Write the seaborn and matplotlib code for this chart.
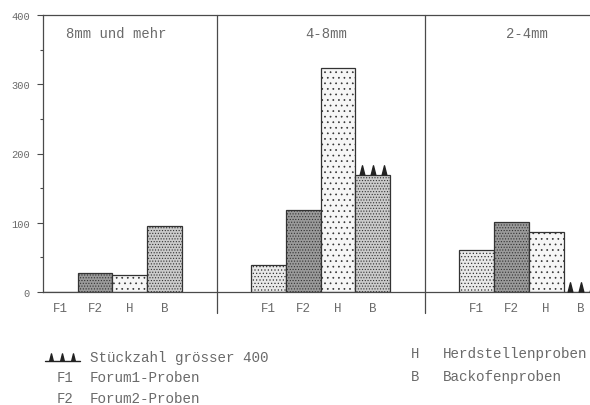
import pandas as pd
import matplotlib.pyplot as plt
import matplotlib.lines as mlines
import seaborn as sns

# -----------------------------
# DATA (Stückzahl je Fraktion und Probe)
# -----------------------------
groups = ["8mm und mehr", "4-8mm", "2-4mm"]
probes = ["F1", "F2", "H", "B"]
counts_8mm = [0, 27, 25, 95]
counts_4_8mm = [39, 118, 323, 169]
counts_2_4mm = [61, 101, 87, 0]
over400 = [("4-8mm", "B"), ("2-4mm", "B")]

legend_probes = ["F1", "F2", "H", "B"]
legend_names = ["Forum1-Proben", "Forum2-Proben", "Herdstellenproben", "Backofenproben"]
legend_flag = "Stückzahl grösser 400"

# -----------------------------
# LAYOUT / STYLE
# -----------------------------
group_start = [0, 6, 12]
dividers = [5, 11]
title_x = [2.1, 8.15, 13.95]
fills = {
    "F1": ("#e9e9e9", "....."),
    "F2": ("#9a9a9a", "......"),
    "H": ("#f6f6f6", "..."),
    "B": ("#cbcbcb", "......"),
}
ink = "#4a4a4a"
txt = "#6a6a6a"

sns.set_style("white")
plt.rcParams["font.family"] = ["Liberation Mono", "DejaVu Sans Mono"]
plt.rcParams["hatch.linewidth"] = 0.5

rows = []
for g, start, vals in zip(groups, group_start, [counts_8mm, counts_4_8mm, counts_2_4mm]):
    for i, (p, v) in enumerate(zip(probes, vals)):
        rows.append({"group": g, "probe": p, "pos": start + i + 0.5, "count": v})
df = pd.DataFrame(rows)

W, H = 590, 406
fig = plt.figure(figsize=(W / 100, H / 100), dpi=100)
ax = fig.add_axes([43 / W, 113 / H, 1 - 43 / W, 277 / H])

sns.barplot(data=df, x="pos", y="count", native_scale=True, width=1,
            errorbar=None, color="white", edgecolor="#333333", linewidth=0.9, ax=ax)

pos_to_probe = dict(zip(df["pos"].round(2), df["probe"]))
for patch in ax.patches:
    cx = round(patch.get_x() + patch.get_width() / 2, 2)
    face, hatch = fills[pos_to_probe[cx]]
    patch.set_facecolor(face)
    patch.set_hatch(hatch)

# spike markers for "Stückzahl grösser 400"
spike = [(-0.25, 0), (0, 1), (0.25, 0)]
for g, p in over400:
    r = df[(df["group"] == g) & (df["probe"] == p)].iloc[0]
    xs = [r["pos"] - 0.32, r["pos"], r["pos"] + 0.32]
    ax.plot(xs, [r["count"]] * 3, linestyle="none", marker=spike, markersize=14,
            color="#222222", clip_on=False, zorder=5)

# panel titles and dividers
for g, tx in zip(groups, title_x):
    ax.text(tx, 374, g, ha="center", va="center", fontsize=10, color=txt)
for d in dividers:
    ax.axvline(d, ymin=-0.075, ymax=1, color=ink, lw=0.9, clip_on=False)

ax.set_xlim(0, (W - 43) / 34.7)
ax.set_ylim(0, 400)
ax.set_xticks(df["pos"])
ax.set_xticklabels(df["probe"], fontsize=9, color=txt)
ax.set_yticks([0, 100, 200, 300, 400])
ax.set_yticks([50, 150, 250, 350], minor=True)
ax.set_yticklabels(["0", "100", "200", "300", "400"], fontsize=7.5, color=txt)
ax.tick_params(axis="x", length=0, pad=7)
ax.tick_params(axis="y", which="major", length=4.5, width=0.8, color=ink, pad=5, left=True)
ax.tick_params(axis="y", which="minor", length=2.2, width=0.8, color=ink, left=True)
ax.set_xlabel("")
ax.set_ylabel("")
for side in ["left", "top", "bottom"]:
    ax.spines[side].set_color(ink)
    ax.spines[side].set_linewidth(0.9)
ax.spines["right"].set_visible(False)


# -----------------------------
# LEGEND (figure text)
# -----------------------------
def px(x, y):
    return x / W, 1 - y / H


fig.add_artist(mlines.Line2D([45 / W, 80 / W], [1 - 362 / H] * 2, color="#222222", lw=1))
for sx in [51, 62, 73]:
    fig.add_artist(mlines.Line2D([sx / W], [1 - 362 / H], linestyle="none", marker=spike,
                                 markersize=11, color="#222222"))
fig.text(*px(90, 358), legend_flag, fontsize=10.3, color=txt, va="center")
fig.text(*px(57, 378), legend_probes[0], fontsize=10, color=txt, va="center")
fig.text(*px(90, 378), legend_names[0], fontsize=10.3, color=txt, va="center")
fig.text(*px(57, 399), legend_probes[1], fontsize=10, color=txt, va="center")
fig.text(*px(90, 399), legend_names[1], fontsize=10.3, color=txt, va="center")
fig.text(*px(411, 354), legend_probes[2], fontsize=10, color=txt, va="center")
fig.text(*px(443, 354), legend_names[2], fontsize=10.3, color=txt, va="center")
fig.text(*px(411, 377), legend_probes[3], fontsize=10, color=txt, va="center")
fig.text(*px(443, 377), legend_names[3], fontsize=10.3, color=txt, va="center")

fig.savefig("out.png", dpi=100)
